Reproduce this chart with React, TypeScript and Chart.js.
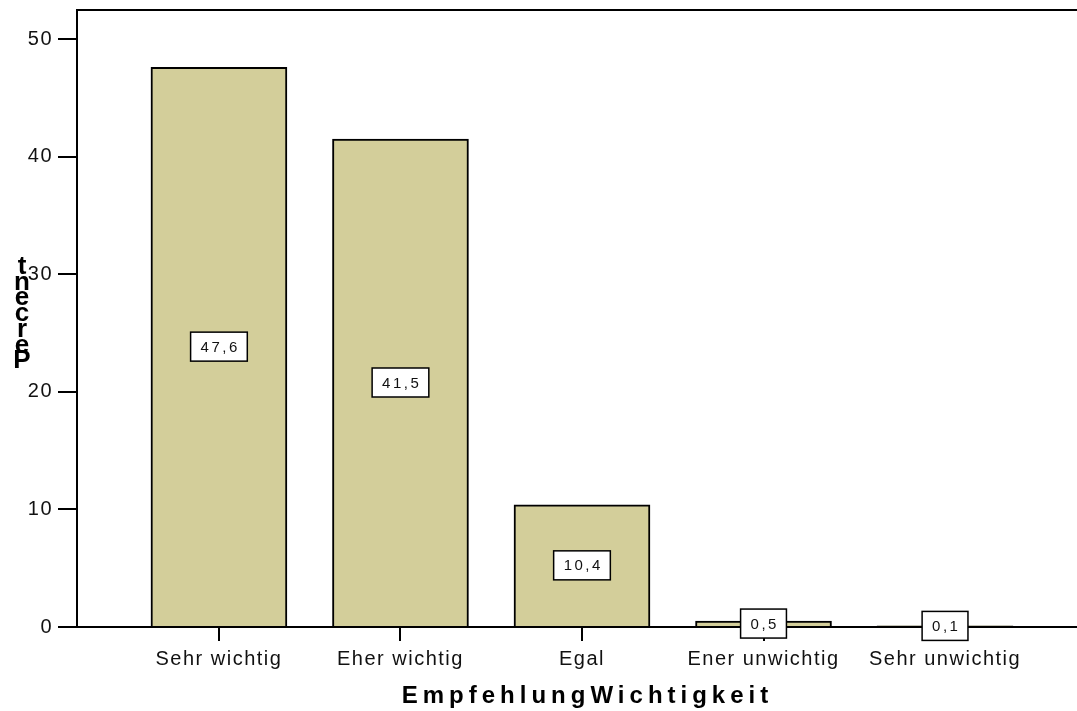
import React, { useEffect, useRef } from "react";
import { Chart, registerables } from "chart.js";

Chart.register(...registerables);

const categories = ["Sehr wichtig", "Eher wichtig", "Egal", "Ener unwichtig", "Sehr unwichtig"];
const positions = [0, 1, 2, 3, 4];
const percents = [47.6, 41.5, 10.4, 0.5, 0.1];
const valueLabels = ["47,6", "41,5", "10,4", "0,5", "0,1"];
const yTicks = [0, 10, 20, 30, 40, 50];
const yTitle = "Percent";
const xTitle = "EmpfehlungWichtigkeit";

const FONT = "'Liberation Sans', Arial, Helvetica, sans-serif";

const spacingPlugin = {
  id: "spacing",
  beforeUpdate(chart: any) {
    chart.ctx.letterSpacing = "1.5px";
  },
  beforeDraw(chart: any) {
    chart.ctx.letterSpacing = "1.5px";
  },
};

const decorPlugin = {
  id: "decor",
  afterDraw(chart: any) {
    const ctx = chart.ctx as CanvasRenderingContext2D;
    const area = chart.chartArea;
    // top frame line
    ctx.save();
    ctx.strokeStyle = "#000";
    ctx.lineWidth = 2;
    ctx.beginPath();
    ctx.moveTo(area.left, area.top);
    ctx.lineTo(area.right, area.top);
    ctx.stroke();

    // data labels
    const meta = chart.getDatasetMeta(0);
    ctx.font = `15px ${FONT}`;
    (ctx as any).letterSpacing = "2.5px";
    ctx.textBaseline = "middle";
    ctx.textAlign = "left";
    meta.data.forEach((bar: any, i: number) => {
      const text = valueLabels[i];
      const cx = bar.x;
      const cy = (bar.y + bar.base) / 2;
      const tw = ctx.measureText(text).width - 2.5;
      const bw = tw + 20;
      const bh = 29;
      ctx.fillStyle = "#fff";
      ctx.fillRect(cx - bw / 2, cy - bh / 2, bw, bh);
      ctx.strokeStyle = "#000";
      ctx.lineWidth = 1.5;
      ctx.strokeRect(cx - bw / 2, cy - bh / 2, bw, bh);
      ctx.fillStyle = "#111";
      ctx.fillText(text, cx - tw / 2, cy + 1);
    });

    // x title
    ctx.font = `bold 24px ${FONT}`;
    (ctx as any).letterSpacing = "5px";
    ctx.textBaseline = "alphabetic";
    const w = ctx.measureText(xTitle).width - 5;
    ctx.fillStyle = "#000";
    ctx.fillText(xTitle, 585 - w / 2, 703);

    // y title (stacked letters)
    ctx.font = `bold 26px ${FONT}`;
    (ctx as any).letterSpacing = "0px";
    ctx.textAlign = "center";
    const letters = yTitle.split("").reverse();
    letters.forEach((ch, i) => {
      ctx.fillText(ch, 22, 274 + 15.7 * i);
    });
    ctx.restore();
  },
};

export default function App() {
  const canvasRef = useRef<HTMLCanvasElement | null>(null);

  useEffect(() => {
    document.body.style.margin = "0";
    const canvas = canvasRef.current;
    if (!canvas) return;
    const chart = new Chart(canvas, {
      type: "bar",
      data: {
        datasets: [
          {
            data: positions.map((x, i) => ({ x, y: percents[i] })),
            backgroundColor: "#d3ce9a",
            borderColor: "#000",
            borderWidth: 2,
            barThickness: 136,
          },
        ],
      },
      options: {
        animation: false,
        responsive: false,
        devicePixelRatio: 1,
        layout: { padding: { top: 10, left: 0, right: 0, bottom: 0 } },
        plugins: {
          legend: { display: false },
          tooltip: { enabled: false },
          title: { display: false },
        },
        scales: {
          x: {
            type: "linear",
            min: -0.782,
            max: 4.727,
            offset: false,
            afterBuildTicks(scale: any) {
              scale.ticks = positions.map((v) => ({ value: v }));
            },
            afterFit(scale: any) {
              scale.height = 84;
              scale.paddingLeft = 0;
              scale.paddingRight = 0;
            },
            ticks: {
              autoSkip: false,
              maxRotation: 0,
              minRotation: 0,
              padding: 6,
              color: "#111",
              font: { family: FONT, size: 20 },
              callback: (v: any) => categories[v as number] ?? "",
            },
            grid: {
              offset: false,
              drawOnChartArea: false,
              drawTicks: true,
              tickLength: 14,
              color: "#000",
              lineWidth: 2,
            },
            border: { display: true, color: "#000", width: 2 },
          },
          y: {
            min: 0,
            max: 52.47,
            afterBuildTicks(scale: any) {
              scale.ticks = yTicks.map((v) => ({ value: v }));
            },
            afterFit(scale: any) {
              scale.width = 77;
              scale.paddingTop = 0;
              scale.paddingBottom = 0;
            },
            ticks: {
              padding: 5,
              color: "#111",
              font: { family: FONT, size: 20 },
              callback: (v: any) => String(v),
            },
            grid: {
              drawOnChartArea: false,
              drawTicks: true,
              tickLength: 19,
              color: "#000",
              lineWidth: 2,
            },
            border: { display: true, color: "#000", width: 2 },
          },
        },
      },
      plugins: [spacingPlugin, decorPlugin],
    } as any);
    return () => chart.destroy();
  }, []);

  return (
    <div style={{ width: 1077, height: 711, background: "#fff" }}>
      <canvas ref={canvasRef} width={1077} height={711} style={{ display: "block" }} />
    </div>
  );
}
